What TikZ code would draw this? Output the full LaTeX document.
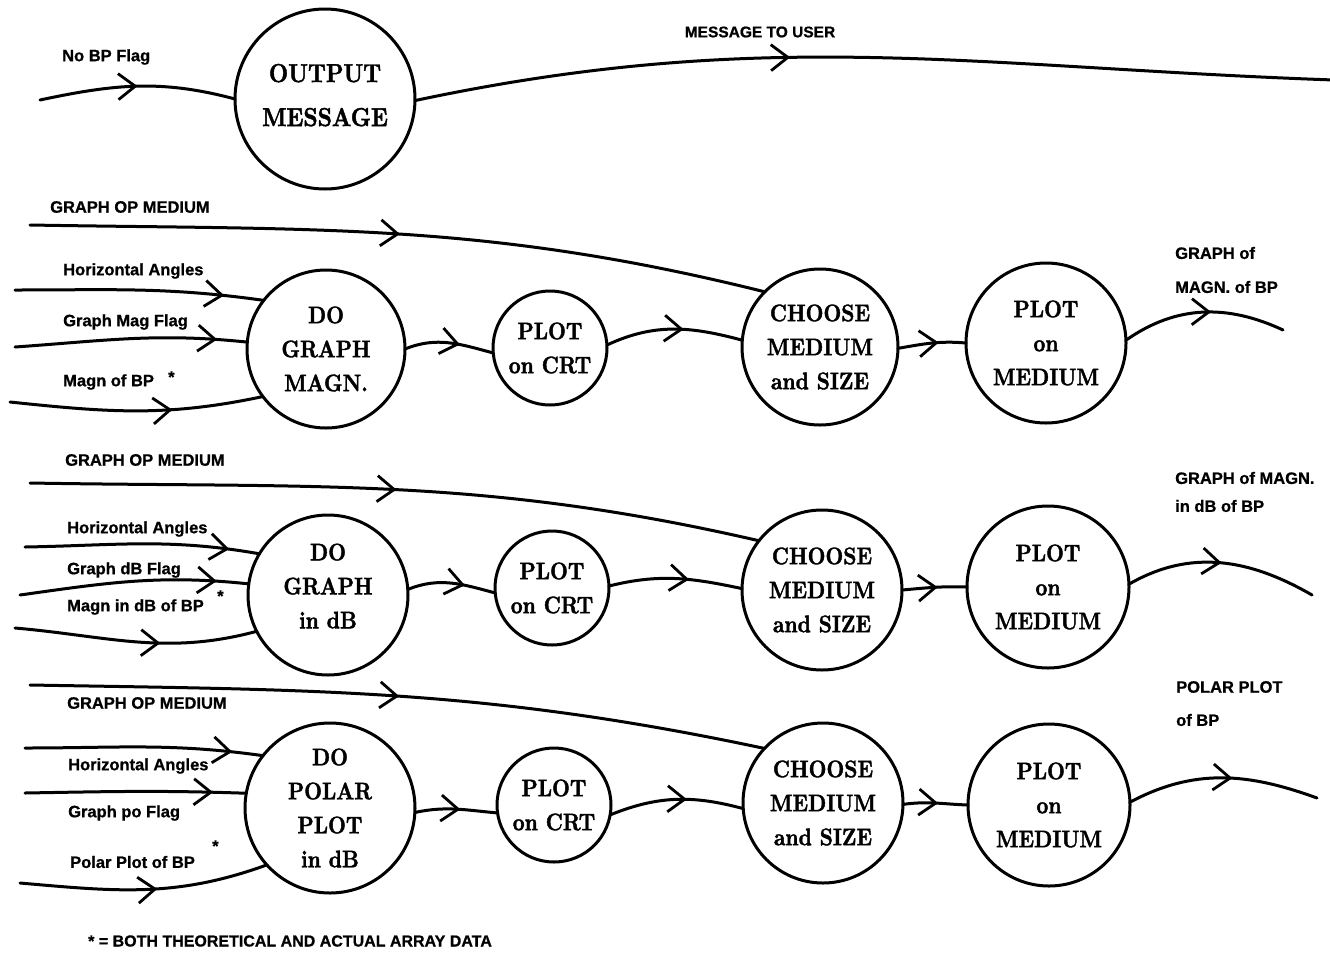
\documentclass[tikz,border=0pt]{standalone}
\usepackage{fontspec}
\usetikzlibrary{arrows.meta,decorations.markings}
% heavy serif for the process bubbles, heavy sans for the flow labels
\newfontfamily\bubblefont{lmroman10-bold.otf}[FakeStretch=0.86, FakeBold=1.6]
\newfontfamily\tagfont{Liberation Sans Bold}[FakeBold=0.8]

\tikzset{
  bubble/.style={circle, draw, line width=3pt, inner sep=0pt, outer sep=0pt,
    align=center, font=\bubblefont\fontsize{24}{34}\selectfont},
  bigbubble/.style={bubble, font=\bubblefont\fontsize{26}{44}\selectfont},
  wire/.style={line width=3pt, line cap=round},
  flowmark/.style={postaction={decorate}, decoration={markings,
    mark=at position #1 with {\arrow{Straight Barb[length=17pt,width=26pt,line width=2.8pt]}}}},
  tag/.style={font=\tagfont\fontsize{16.5}{19}\selectfont, inner sep=0pt, anchor=west},
}

\begin{document}
\begin{tikzpicture}[x=1pt,y=1pt]
\path[fill=white] (0,0) rectangle (1330,-956);
\useasboundingbox (0,0) rectangle (1330,-956);

% ---------- process bubbles ----------
\node[bigbubble, minimum size=180pt, text depth=8pt] (out) at (325,-99) {OUTPUT\\MESSAGE};

\node[bubble, minimum size=158pt] (do1)  at (326,-349)  {DO\\GRAPH\\MAGN.};
\node[bubble, minimum size=114pt] (crt1) at (550,-348)  {PLOT\\on CRT};
\node[bubble, minimum size=156pt] (ch1)  at (820,-347)  {CHOOSE\\MEDIUM\\and SIZE};
\node[bubble, minimum size=160pt] (pm1)  at (1046,-343) {PLOT\\on\\MEDIUM};

\node[bubble, minimum size=160pt, text depth=18pt] (do2) at (328,-595) {DO\\GRAPH\\in dB};
\node[bubble, minimum size=114pt] (crt2) at (552,-588)  {PLOT\\on CRT};
\node[bubble, minimum size=160pt] (ch2)  at (822,-590)  {CHOOSE\\MEDIUM\\and SIZE};
\node[bubble, minimum size=162pt] (pm2)  at (1048,-587) {PLOT\\on\\MEDIUM};

\node[bubble, minimum size=170pt] (do3)  at (330,-808)  {DO\\POLAR\\PLOT\\in dB};
\node[bubble, minimum size=114pt] (crt3) at (554,-805)  {PLOT\\on CRT};
\node[bubble, minimum size=160pt] (ch3)  at (823,-803)  {CHOOSE\\MEDIUM\\and SIZE};
\node[bubble, minimum size=162pt] (pm3)  at (1049,-805) {PLOT\\on\\MEDIUM};

% ---------- free ends of the flows ----------
\coordinate (nobpSrc) at (40,-100);
\coordinate (msgDst)  at (1334,-80);

\coordinate (gom1Src) at (30,-225);
\coordinate (ha1Src)  at (15,-290);
\coordinate (gmf1Src) at (15,-347);
\coordinate (mbp1Src) at (10,-402);
\coordinate (res1)    at (1283,-330);

\coordinate (gom2Src) at (30,-483);
\coordinate (ha2Src)  at (25,-547);
\coordinate (gdb2Src) at (20,-595);
\coordinate (mdb2Src) at (15,-628);
\coordinate (res2)    at (1312,-595);

\coordinate (gom3Src) at (30,-685);
\coordinate (ha3Src)  at (25,-748);
\coordinate (gpf3Src) at (25,-793);
\coordinate (ppb3Src) at (20,-883);
\coordinate (res3)    at (1317,-798);

% ---------- message branch ----------
\draw[wire, flowmark=0.5]  (nobpSrc) to[out=12,in=165] (out.180);
\draw[wire, flowmark=0.41] (out.-1) to[out=12,in=178] (msgDst);

% ---------- magnitude branch ----------
\draw[wire, flowmark=0.5]  (gom1Src) to[out=-1,in=166] (ch1.135);
\draw[wire, flowmark=0.84] (ha1Src)  to[out=0,in=172]  (do1.142);
\draw[wire, flowmark=0.87] (gmf1Src) to[out=4,in=174]  (do1.175);
\draw[wire, flowmark=0.64] (mbp1Src) to[out=-6,in=192] (do1.217);
\draw[wire, flowmark=0.62] (do1.0)   to[out=22,in=165] (crt1.185);
\draw[wire, flowmark=0.57] (crt1.3)  to[out=25,in=165] (ch1.175);
\draw[wire, flowmark=0.6]  (ch1.-1)  to[out=10,in=175] (pm1.180);
\draw[wire, flowmark=0.55] (pm1.2)   to[out=35,in=155] (res1);

% ---------- dB branch ----------
\draw[wire, flowmark=0.5]  (gom2Src) to[out=-1,in=167] (ch2.142);
\draw[wire, flowmark=0.87] (ha2Src)  to[out=1,in=170]  (do2.149);
\draw[wire, flowmark=0.86] (gdb2Src) to[out=8,in=174]  (do2.172);
\draw[wire, flowmark=0.6]  (mdb2Src) to[out=-5,in=195] (do2.207);
\draw[wire, flowmark=0.65] (do2.4)   to[out=22,in=165] (crt2.185);
\draw[wire, flowmark=0.6]  (crt2.2)  to[out=14,in=168] (ch2.179);
\draw[wire, flowmark=0.55] (ch2.0)   to[out=5,in=178]  (pm2.180);
\draw[wire, flowmark=0.5]  (pm2.2)   to[out=30,in=150] (res2);

% ---------- polar branch ----------
\draw[wire, flowmark=0.5]  (gom3Src) to[out=-1,in=168] (ch3.137);
\draw[wire, flowmark=0.87] (ha3Src)  to[out=0,in=172]  (do3.142);
\draw[wire, flowmark=0.85] (gpf3Src) to[out=1,in=178]  (do3.170);
\draw[wire, flowmark=0.55] (ppb3Src) to[out=-5,in=200] (do3.222);
\draw[wire, flowmark=0.55] (do3.-3)  to[out=12,in=175] (crt3.188);
\draw[wire, flowmark=0.58] (crt3.-10) to[out=22,in=165] (ch3.184);
\draw[wire, flowmark=0.54] (ch3.-1)  to[out=8,in=178]  (pm3.180);
\draw[wire, flowmark=0.55] (pm3.2)   to[out=28,in=160] (res3);

% ---------- flow labels ----------
\node[tag] (lNoBP) at (62,-57) {No BP Flag};
\node[tag, anchor=center, font=\tagfont\fontsize{15.5}{18}\selectfont] (lMsg) at (760,-32) {MESSAGE TO USER};

\node[tag] (lGom1) at (50,-207) {GRAPH OP MEDIUM};
\node[tag] (lHa1)  at (63,-271) {Horizontal Angles};
\node[tag] (lGmf1) at (63,-322) {Graph Mag Flag};
\node[tag] (lMbp1) at (63,-382) {Magn of BP};
\node[tag] (sMbp1) at (168,-377) {*};

\node[tag] (lGom2) at (65,-460) {GRAPH OP MEDIUM};
\node[tag] (lHa2)  at (67,-529) {Horizontal Angles};
\node[tag] (lGdb2) at (67,-570) {Graph dB Flag};
\node[tag] (lMdb2) at (67,-607) {Magn in dB of BP};
\node[tag] (sMdb2) at (217,-596) {*};

\node[tag] (lGom3) at (67,-703) {GRAPH OP MEDIUM};
\node[tag] (lHa3)  at (68,-766) {Horizontal Angles};
\node[tag] (lGpf3) at (68,-813) {Graph po Flag};
\node[tag] (lPpb3) at (70,-862) {Polar Plot of BP};
\node[tag] (sPpb3) at (212,-846) {*};

\node[tag] (lRes1a) at (1175,-253) {GRAPH of};
\node[tag] (lRes1b) at (1175,-287) {MAGN. of BP};
\node[tag] (lRes2a) at (1175,-478) {GRAPH of MAGN.};
\node[tag] (lRes2b) at (1175,-506) {in dB of BP};
\node[tag] (lRes3a) at (1176,-687) {POLAR PLOT};
\node[tag] (lRes3b) at (1176,-720) {of BP};

\node[tag, font=\tagfont\fontsize{16}{18}\selectfont] (note) at (88,-941)
  {* = BOTH THEORETICAL AND ACTUAL ARRAY DATA};
\end{tikzpicture}
\end{document}
